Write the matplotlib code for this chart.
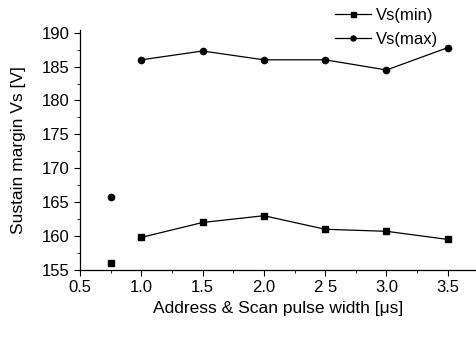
import matplotlib
matplotlib.use("Agg")
import matplotlib.pyplot as plt
from matplotlib.ticker import MultipleLocator

plt.rcParams['font.family'] = ['Liberation Sans', 'DejaVu Sans']

x = [0.75, 1.0, 1.5, 2.0, 2.5, 3.0, 3.5]
vs_min = [156.0, 159.8, 162.0, 163.0, 161.0, 160.7, 159.5]
vs_max = [165.7, 186.0, 187.3, 186.0, 186.0, 184.5, 187.8]
xticks = [0.5, 1.0, 1.5, 2.0, 2.5, 3.0, 3.5]
xticklabels = ['0.5', '1.0', '1.5', '2.0', '2 5', '3.0', '3.5']
yticks = [155, 160, 165, 170, 175, 180, 185, 190]

fig = plt.figure(figsize=(4.76, 3.37), dpi=100)
ax = fig.add_axes([0.168, 0.199, 0.832, 0.712])

ax.plot(x[1:], vs_min[1:], color='black', lw=0.9, marker='s', ms=4.5, label='Vs(min)')
ax.plot(x[:1], vs_min[:1], color='black', lw=0, marker='s', ms=4.5)
ax.plot(x[1:], vs_max[1:], color='black', lw=0.9, marker='o', ms=4.5, label='Vs(max)')
ax.plot(x[:1], vs_max[:1], color='black', lw=0, marker='o', ms=4.5)

ax.set_xlim(0.5, 3.73)
ax.set_ylim(155, 190.4)
ax.set_xticks(xticks)
ax.set_xticklabels(xticklabels)
ax.set_yticks(yticks)
ax.xaxis.set_minor_locator(MultipleLocator(0.25))
ax.yaxis.set_minor_locator(MultipleLocator(2.5))
ax.tick_params(axis='both', which='major', labelsize=12, length=4, width=0.8, direction='out')
ax.tick_params(axis='both', which='minor', length=2, width=0.6, direction='out')

for s in ['top', 'right']:
    ax.spines[s].set_visible(False)
for s in ['left', 'bottom']:
    ax.spines[s].set_linewidth(0.9)

ax.set_xlabel('Address & Scan pulse width [μs]', fontsize=12.5, labelpad=4)
ax.set_ylabel('Sustain margin Vs [V]', fontsize=12.5, labelpad=11)

leg = ax.legend(loc='upper right', bbox_to_anchor=(0.922, 1.12), frameon=False,
                fontsize=12, handlelength=2.2, markerscale=0.8,
                handletextpad=0.3, labelspacing=0.55, borderaxespad=0)

fig.savefig('out.png', dpi=100)
